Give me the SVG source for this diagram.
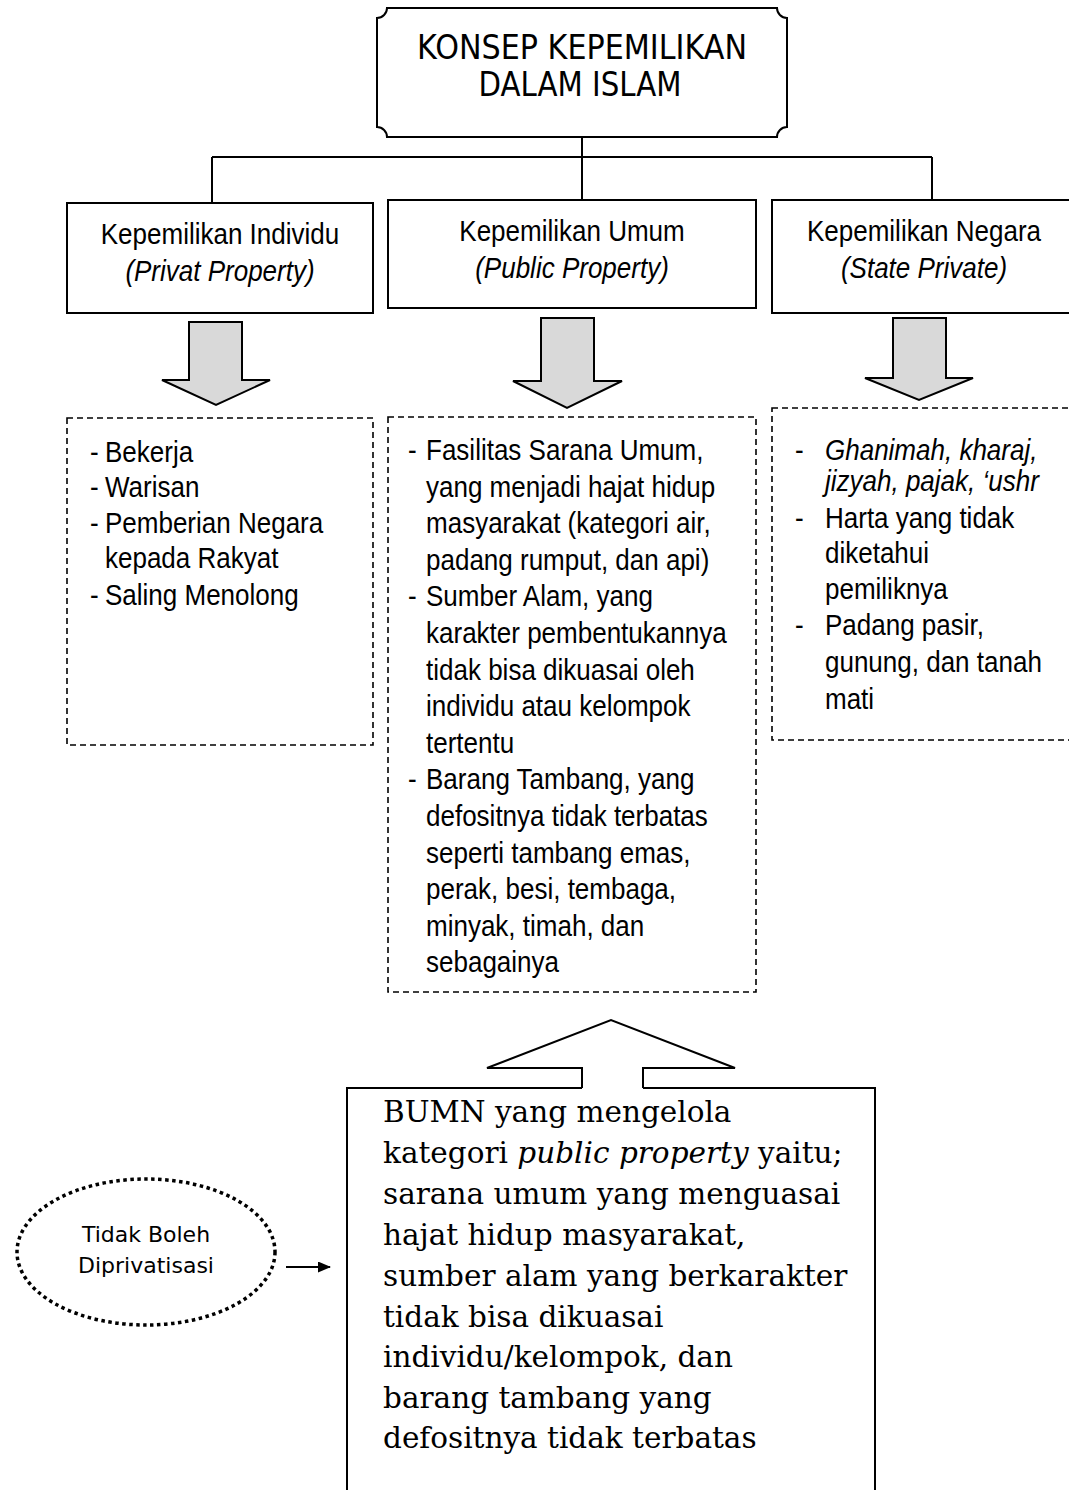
<svg xmlns="http://www.w3.org/2000/svg" width="1069" height="1490" viewBox="0 0 1069 1490">
<style>
.bx{fill:#fff;stroke:#000;stroke-width:2}
.dash{fill:#fff;stroke:#000;stroke-width:1.6;stroke-dasharray:6 4}
.arr{fill:#d9d9d9;stroke:#000;stroke-width:2;stroke-linejoin:miter}
.ln{fill:none;stroke:#000;stroke-width:2}
.t{font-family:"Liberation Sans",Arial,sans-serif;font-size:30px;fill:#000}
.ttl{font-family:"DejaVu Sans",Verdana,sans-serif;font-size:33px;fill:#000}
.ser{font-family:"DejaVu Serif","Liberation Serif",serif;font-size:29.5px;fill:#000}
.el{font-family:"DejaVu Sans",Verdana,sans-serif;font-size:22px;fill:#000}
.c{text-anchor:middle}
.i{font-style:italic}
</style>
<defs>
<marker id="ah" markerWidth="13" markerHeight="11" refX="12" refY="5.5" orient="auto" markerUnits="userSpaceOnUse">
<path d="M0,0 L13,5.5 L0,11 Z" fill="#000"/>
</marker>
</defs>

<g id="connectors">
<path class="ln" d="M582,137 V203 M212,157 H932 M212,157 V203 M932,157 V200"/>
<polygon class="arr" points="189,322 242,322 242,380 270,380 216,405 162,380 189,380"/>
<polygon class="arr" points="541,318 594,318 594,381 622,381 567,408 513,381 541,381"/>
<polygon class="arr" points="893,318 946,318 946,378 973,378 919,400 865,378 893,378"/>
<path d="M286,1267 H330" stroke="#000" stroke-width="2" marker-end="url(#ah)"/>
</g>

<g id="title">
<path class="bx" d="M387,8 H777 A10,10 0 0 0 787,18 V127 A10,10 0 0 0 777,137 H387 A10,10 0 0 0 377,127 V18 A10,10 0 0 0 387,8 Z"/>
<text class="ttl c" x="582" y="59" textLength="330" lengthAdjust="spacingAndGlyphs">KONSEP KEPEMILIKAN</text>
<text class="ttl c" x="580" y="96" textLength="203" lengthAdjust="spacingAndGlyphs">DALAM ISLAM</text>
</g>

<g id="individu">
<rect class="bx" x="67" y="203" width="306" height="110"/>
<g transform="translate(220,0) scale(0.867,1)">
<text class="t c" x="0" y="244">Kepemilikan Individu</text>
<text class="t c i" x="0" y="281">(Privat Property)</text>
</g>
</g>

<g id="umum">
<rect class="bx" x="388" y="200" width="368" height="108"/>
<g transform="translate(572,0) scale(0.867,1)">
<text class="t c" x="0" y="241">Kepemilikan Umum</text>
<text class="t c i" x="0" y="278">(Public Property)</text>
</g>
</g>

<g id="negara">
<rect class="bx" x="772" y="200" width="310" height="113"/>
<g transform="translate(924,0) scale(0.867,1)">
<text class="t c" x="0" y="241">Kepemilikan Negara</text>
<text class="t c i" x="0" y="278">(State Private)</text>
</g>
</g>

<g id="list-individu">
<rect class="dash" x="67" y="418" width="306" height="327"/>
<g transform="translate(90,0) scale(0.867,1)">
<text class="t" x="0" y="462">-</text><text class="t" x="17.3" y="462">Bekerja</text>
<text class="t" x="0" y="497">-</text><text class="t" x="17.3" y="497">Warisan</text>
<text class="t" x="0" y="533">-</text><text class="t" x="17.3" y="533">Pemberian Negara</text>
<text class="t" x="17.3" y="568">kepada Rakyat</text>
<text class="t" x="0" y="605">-</text><text class="t" x="17.3" y="605">Saling Menolong</text>
</g>
</g>

<g id="list-umum">
<rect class="dash" x="388" y="417" width="368" height="575"/>
<g transform="translate(408,0) scale(0.867,1)">
<text class="t" x="0" y="460">-</text><text class="t" x="20.8" y="460">Fasilitas Sarana Umum,</text>
<text class="t" x="20.8" y="496.6">yang menjadi hajat hidup</text>
<text class="t" x="20.8" y="533.2">masyarakat (kategori air,</text>
<text class="t" x="20.8" y="569.8">padang rumput, dan api)</text>
<text class="t" x="0" y="606.4">-</text><text class="t" x="20.8" y="606.4">Sumber Alam, yang</text>
<text class="t" x="20.8" y="643">karakter pembentukannya</text>
<text class="t" x="20.8" y="679.6">tidak bisa dikuasai oleh</text>
<text class="t" x="20.8" y="716.2">individu atau kelompok</text>
<text class="t" x="20.8" y="752.8">tertentu</text>
<text class="t" x="0" y="789.4">-</text><text class="t" x="20.8" y="789.4">Barang Tambang, yang</text>
<text class="t" x="20.8" y="826">defositnya tidak terbatas</text>
<text class="t" x="20.8" y="862.6">seperti tambang emas,</text>
<text class="t" x="20.8" y="899.2">perak, besi, tembaga,</text>
<text class="t" x="20.8" y="935.8">minyak, timah, dan</text>
<text class="t" x="20.8" y="972.4">sebagainya</text>
</g>
</g>

<g id="list-negara">
<rect class="dash" x="772" y="408" width="310" height="332"/>
<g transform="translate(795,0) scale(0.867,1)">
<text class="t" x="0" y="460">-</text><text class="t i" x="34.6" y="460">Ghanimah, kharaj,</text>
<text class="t i" x="34.6" y="491">jizyah, pajak, ‘ushr</text>
<text class="t" x="0" y="528">-</text><text class="t" x="34.6" y="528">Harta yang tidak</text>
<text class="t" x="34.6" y="563">diketahui</text>
<text class="t" x="34.6" y="599">pemiliknya</text>
<text class="t" x="0" y="635">-</text><text class="t" x="34.6" y="635">Padang pasir,</text>
<text class="t" x="34.6" y="672">gunung, dan tanah</text>
<text class="t" x="34.6" y="709">mati</text>
</g>
</g>

<g id="bumn">
<path d="M582,1088 V1068 H487 L611,1020 L735,1068 H643 V1088" fill="#fff" stroke="#000" stroke-width="2" stroke-linejoin="miter"/>
<path class="ln" d="M582,1088 H347 V1495 M643,1088 H875 V1495"/>
<text class="ser" x="383" y="1122">BUMN yang mengelola</text>
<text class="ser" x="383" y="1163">kategori <tspan class="i">public property</tspan> yaitu;</text>
<text class="ser" x="383" y="1204">sarana umum yang menguasai</text>
<text class="ser" x="383" y="1245">hajat hidup masyarakat,</text>
<text class="ser" x="383" y="1286">sumber alam yang berkarakter</text>
<text class="ser" x="383" y="1327">tidak bisa dikuasai</text>
<text class="ser" x="383" y="1367">individu/kelompok, dan</text>
<text class="ser" x="383" y="1408">barang tambang yang</text>
<text class="ser" x="383" y="1448">defositnya tidak terbatas</text>
</g>

<g id="tidak-boleh">
<ellipse cx="146" cy="1252" rx="129" ry="73" fill="#fff" stroke="#000" stroke-width="3.5" stroke-dasharray="3.5 3.5"/>
<text class="el c" x="146" y="1242">Tidak Boleh</text>
<text class="el c" x="146" y="1273">Diprivatisasi</text>
</g>
</svg>
